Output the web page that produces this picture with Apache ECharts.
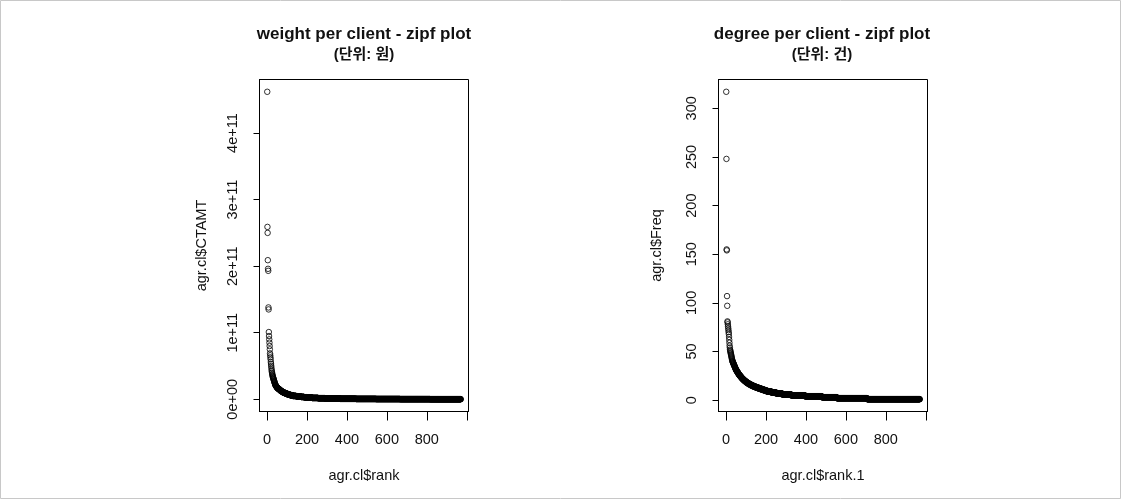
<!DOCTYPE html>
<html>
<head>
<meta charset="utf-8">
<script src="https://cdn.jsdelivr.net/npm/echarts@6/dist/echarts.min.js"></script>
<style>
html,body{margin:0;padding:0;background:#fff;}
#chart{width:1121px;height:499px;}
</style>
</head>
<body>
<div id="chart"></div>
<script>
// ---- data ----
// weight per client (agr.cl$CTAMT), sorted by rank, in units of 1e9 won: [value, number of consecutive ranks]
const ctamtRuns = [
  [462,1],[259,1],[250,1],[209,1],[196,1],[193,1],[138,1],[135,1],[101,1],[95,1],
  [90,1],[85,1],[80,1],[75,1],[69,1],[66,1],[63,1],[60,1],[56,1],[53,1],
  [50,1],[47,1],[44,1],[42,1],[40,1],[38,1],[37,1],[35,1],[34,1],[33,1],
  [32,1],[31,1],[30,1],[29,1],[28,1],[27,1],[26,1],[25,1],[24,1],[23,1],
  [22,1],[21.5,1],[21,1],[20.5,1],[20,1],[19.5,1],[19,1],[18.5,1],[18,1],[17.6,1],
  [17.3,1],[17,1],[16.8,1],[16.6,1],
  [16,4],[15,4],[14,4],[13,4],[12,5],[11,6],[10,7],[9,8],[8,9],[7,10],
  [6,13],[5,17],[4.5,10],[4,15],[3.5,15],[3,15],[2.5,25],[2,30],[1.6,35],[1.3,40],
  [1,35],[0.7,80],[0.5,100],[0.35,120],[0.2,150],[0.1,155]
];
// degree per client (agr.cl$Freq), sorted by rank: [value, number of consecutive ranks]
const freqRuns = [
  [317,1],[248,1],[155,1],[154,1],[107,1],[97,1],[81,1],[80,1],[78,1],[76,1],
  [74,1],[72,1],[70,1],[68,1],[65,1],[62,1],[59,1],[56,1],[54,1],[52,1],
  [51,1],[50,1],[49,1],[48,1],[47,1],[46,1],[45,1],[44,1],[43,1],[42,1],
  [41,1],[40,2],[39,2],[38,2],[37,2],[36,2],[35,2],[34,2],[33,2],[32,2],
  [31,3],[30,3],[29,3],[28,3],[27,3],[26,4],[25,4],[24,4],[23,4],[22,5],
  [21,5],[20,6],[19,6],[18,7],[17,8],[16,9],[15,10],[14,12],[13,13],[12,14],
  [11,14],[10,14],[9,22],[8,24],[7,30],[6,45],[5,70],[4,85],[3,75],[2,152],
  [1,264]
];
const rankTicks = [0,200,400,600,800,1000];
const rankLabels = [0,200,400,600,800];
const ctamtTicks = [0,100,200,300,400];          // 1e9 units
const ctamtTickLabels = ['0e+00','1e+11','2e+11','3e+11','4e+11'];
const freqTicks = [0,50,100,150,200,250,300];

// ---- build point lists (rank, value) ----
function expand(runs){
  const out=[]; let r=1;
  runs.forEach(([v,c])=>{ for(let i=0;i<c;i++){ out.push([r,v]); r++; } });
  return out;
}
const ctamtPts = expand(ctamtRuns);
const freqPts  = expand(freqRuns);

// R default axis range: data range extended by 4% on each side
function rRange(vals){
  const lo=Math.min(...vals), hi=Math.max(...vals), p=(hi-lo)*0.04;
  return [lo-p, hi+p];
}
const xr1 = rRange(ctamtPts.map(d=>d[0]));
const yr1 = rRange(ctamtPts.map(d=>d[1]));
const xr2 = rRange(freqPts.map(d=>d[0]));
const yr2 = rRange(freqPts.map(d=>d[1]));

const FONT = '"Liberation Sans", Arial, "Noto Sans CJK KR", sans-serif';
const TXT = '#111';

function xAxisCfg(idx, range, name){
  return {
    type:'value', gridIndex:idx, min:range[0], max:range[1],
    axisLine:{show:true,onZero:false,lineStyle:{color:'#000',width:1}},
    axisTick:{show:true,inside:false,length:9,customValues:rankTicks,lineStyle:{color:'#000'}},
    axisLabel:{show:true,customValues:rankLabels,margin:21,fontSize:14.5,color:TXT,fontFamily:FONT},
    splitLine:{show:false},
    name:name, nameLocation:'middle', nameGap:57,
    nameTextStyle:{fontSize:14.5,color:TXT,fontFamily:FONT}
  };
}
function yAxisCfg(idx, range, ticks, fmt, name, gap){
  return {
    type:'value', gridIndex:idx, min:range[0], max:range[1],
    axisLine:{show:true,onZero:false,lineStyle:{color:'#000',width:1}},
    axisTick:{show:true,inside:false,length:6,customValues:ticks,lineStyle:{color:'#000'}},
    axisLabel:{show:true,customValues:ticks,rotate:90,margin:19,fontSize:14.5,color:TXT,fontFamily:FONT,formatter:fmt},
    splitLine:{show:false},
    name:name, nameLocation:'middle', nameRotate:90, nameGap:gap,
    nameTextStyle:{fontSize:14.5,color:TXT,fontFamily:FONT}
  };
}
function titleCfg(x, text, sub){
  return {
    text:text, subtext:sub, left:x, top:24, textAlign:'center', itemGap:2, padding:0,
    textStyle:{fontSize:17,fontWeight:'bold',color:TXT,fontFamily:FONT,lineHeight:20},
    subtextStyle:{fontSize:15,fontWeight:'bold',color:TXT,fontFamily:FONT,lineHeight:18}
  };
}
const pointStyle = {color:'rgba(0,0,0,0)',borderColor:'#000',borderWidth:1};

const option = {
  backgroundColor:'#fff',
  animation:false,
  title:[
    titleCfg(364,'weight per client - zipf plot','(단위: 원)'),
    titleCfg(822,'degree per client - zipf plot','(단위: 건)')
  ],
  grid:[
    {left:259.5,top:79.5,width:209,height:332,show:true,borderColor:'#000',borderWidth:1,backgroundColor:'transparent'},
    {left:718.5,top:79.5,width:209,height:332,show:true,borderColor:'#000',borderWidth:1,backgroundColor:'transparent'}
  ],
  xAxis:[
    xAxisCfg(0,xr1,'agr.cl$rank'),
    xAxisCfg(1,xr2,'agr.cl$rank.1')
  ],
  yAxis:[
    yAxisCfg(0,yr1,ctamtTicks,(v)=>{const i=ctamtTicks.indexOf(Math.round(v));return i>=0?ctamtTickLabels[i]:'';},'agr.cl$CTAMT',50),
    yAxisCfg(1,yr2,freqTicks,(v)=>String(Math.round(v)),'agr.cl$Freq',54)
  ],
  series:[
    {type:'scatter',xAxisIndex:0,yAxisIndex:0,data:ctamtPts,symbol:'circle',symbolSize:5.5,itemStyle:pointStyle,silent:true,large:false},
    {type:'scatter',xAxisIndex:1,yAxisIndex:1,data:freqPts,symbol:'circle',symbolSize:5.5,itemStyle:pointStyle,silent:true,large:false}
  ],
  graphic:[
    {type:'rect',shape:{x:0.5,y:0.5,width:1120,height:498},style:{fill:'none',stroke:'#c8c8c8',lineWidth:1},silent:true}
  ]
};
const chart = echarts.init(document.getElementById('chart'),null,{renderer:'canvas'});
chart.setOption(option);
</script>
</body>
</html>
